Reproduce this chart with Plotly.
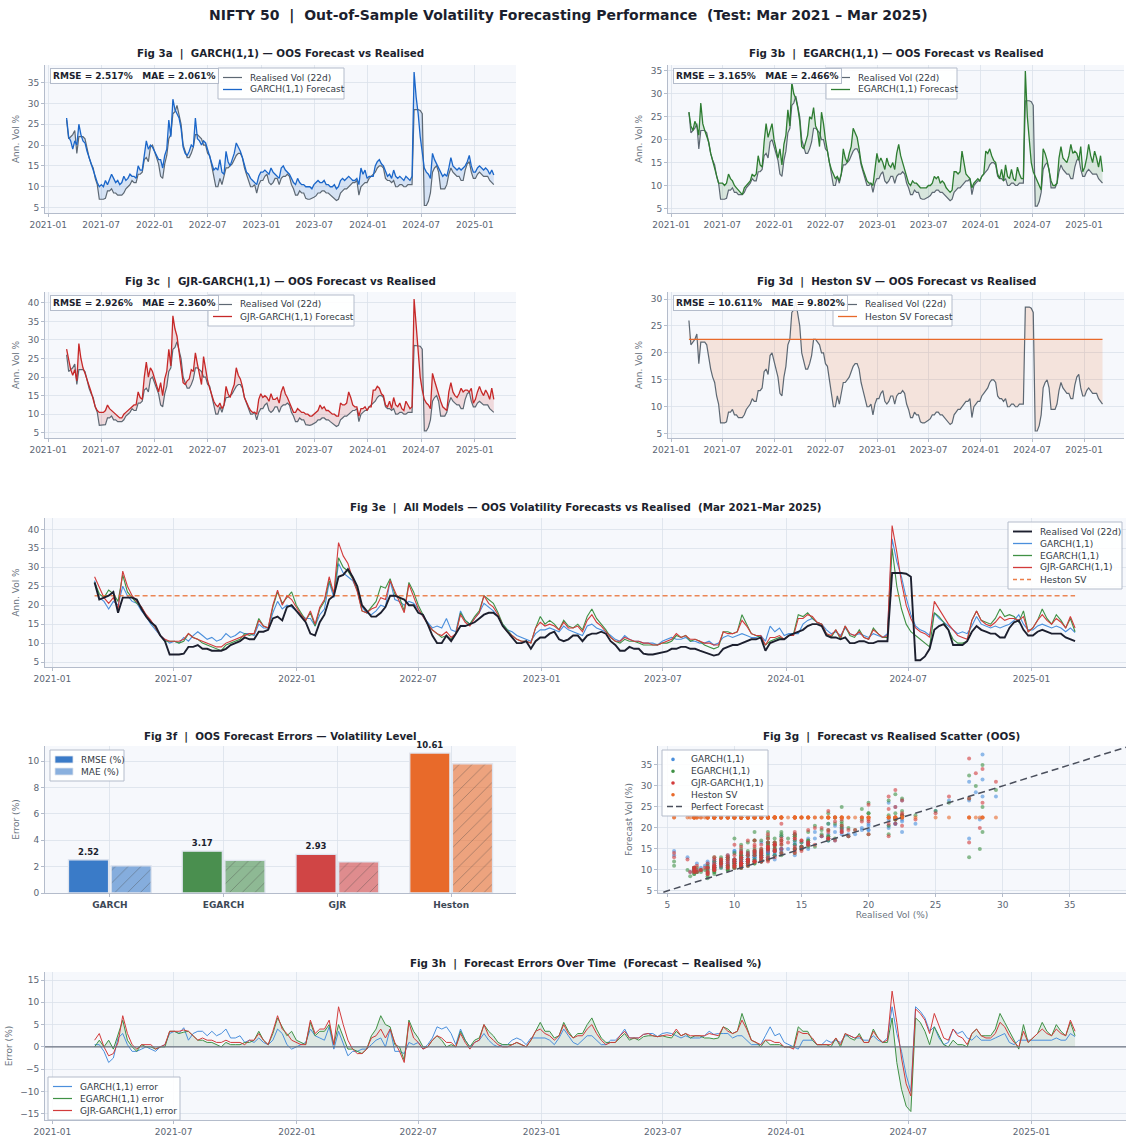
import pandas as pd
import plotly.graph_objects as go

# ---------------- DATA (weekly readings) ----------------
DATES = pd.date_range("2021-03-05", periods=210, freq="W-FRI")

REALISED = [
    # 2021
    26.0, 21.5, 22.0, 22.5,
    23.5, 18.0, 22.0, 22.0, 22.0,
    21.5, 19.0, 17.0, 15.5,
    14.5, 12.0, 10.5, 7.0,
    7.0, 7.0, 7.2, 9.0, 9.0,
    9.5, 8.5, 8.5, 8.0,
    8.0, 8.0, 8.5, 9.5,
    10.0, 10.5, 11.5, 11.0, 11.0,
    13.0, 13.0, 13.5, 16.5,
    17.0, 16.0, 19.5, 20.0, 18.5,
    # 2022
    17.0, 15.5, 12.5, 12.0,
    15.5, 17.5, 21.5, 22.5,
    27.5, 28.0, 29.5, 27.5,
    25.0, 20.0, 18.5, 17.0, 17.0,
    18.0, 19.5, 22.5, 22.5,
    22.0, 21.5, 20.0, 20.0,
    18.0, 17.5, 15.0, 12.0, 10.0,
    10.0, 12.0, 10.5, 12.5,
    14.5, 14.5, 15.0, 15.5, 16.5,
    17.5, 18.0, 18.0, 17.0,
    14.5, 13.0, 11.5, 10.0,
    10.0, 10.5, 8.5, 10.5, 11.5,
    # 2023
    11.5, 12.5, 13.0, 11.0,
    10.5, 11.0, 12.0, 12.0,
    10.5, 12.0, 12.5, 12.5, 13.0,
    12.5, 10.5, 9.5, 8.0,
    8.0, 9.0, 8.5, 8.5,
    7.2, 7.0, 7.0, 7.2, 7.5,
    7.8, 8.5, 8.5, 9.0,
    9.0, 8.5, 8.5, 8.0,
    7.5, 7.0, 6.7, 7.0, 8.5,
    9.0, 9.5, 9.5, 10.0,
    10.5, 11.0, 11.0, 11.5,
    8.0, 10.0, 10.5, 11.0, 11.0,
    # 2024
    12.0, 12.5, 13.0, 13.5,
    14.5, 15.0, 15.0, 14.5,
    12.0, 11.5, 11.5, 11.0, 11.5,
    10.0, 10.0, 10.5, 10.5,
    10.0, 10.0, 10.5, 10.5, 10.5,
    28.5, 28.5, 28.5, 28.3,
    27.5, 5.5, 5.5, 6.5,
    8.5, 13.5, 14.5, 15.0, 13.5,
    9.5, 9.5, 9.5, 10.5,
    13.0, 14.5, 13.5, 13.0,
    12.5, 12.5, 11.5, 11.5, 14.0,
    15.5, 16.0, 13.5, 12.0,
    # 2025
    12.0, 13.0, 13.5, 13.0, 12.5,
    12.5, 12.5, 11.5, 11.0,
    10.5,
]

GARCH = [
    26.5, 22.0, 21.0, 19.0,
    21.0, 20.0, 25.0, 22.5, 21.0,
    20.5, 18.5, 17.0, 15.0,
    13.5, 12.0, 11.0, 10.0,
    10.5, 10.0, 11.5, 10.5, 12.0,
    13.0, 12.0, 11.0, 11.5,
    10.5, 11.0, 12.5, 11.5,
    12.0, 13.0, 12.5, 12.5, 12.0,
    15.0, 14.0, 14.0, 18.0,
    21.0, 19.0, 20.0, 19.5, 18.5,
    # 2022
    17.5, 16.5, 16.5, 14.5,
    17.5, 19.0, 26.0, 22.0,
    31.0, 28.5, 27.5, 26.5,
    24.0, 19.5, 18.0, 17.5, 18.5,
    20.0, 19.5, 26.5, 21.5,
    21.0, 20.0, 21.0, 20.5,
    19.0, 17.0, 15.5, 14.0, 14.5,
    14.0, 16.5, 13.5, 13.0,
    18.5, 16.0, 15.0, 16.5, 18.0,
    20.5, 19.5, 18.5, 17.0,
    15.0, 13.5, 13.0, 12.0,
    11.5, 11.0, 10.5, 12.5, 13.5,
    # 2023
    13.5, 14.0, 13.5, 13.0,
    14.5, 13.5, 13.0, 12.5,
    12.0, 14.5, 15.0, 14.0, 13.5,
    13.0, 12.0, 11.0, 10.5,
    12.0, 11.0, 10.5, 10.5,
    10.0, 10.0, 10.0, 9.5, 10.5,
    11.0, 11.5, 11.0, 11.0,
    11.5, 10.5, 10.5, 10.0,
    10.0, 10.5, 9.5, 10.0, 11.5,
    12.0, 11.5, 12.0, 12.5,
    12.0, 11.5, 11.5, 12.0,
    10.5, 14.5, 13.0, 14.0, 12.0,
    # 2024
    12.5, 12.5, 12.5, 15.0,
    16.0, 16.5, 15.5, 15.0,
    13.5, 12.5, 13.0, 12.0, 14.0,
    12.5, 12.0, 12.5, 12.0,
    11.5, 12.5, 12.0, 11.5, 12.5,
    37.5, 31.5, 27.5, 22.0,
    17.5, 14.5, 13.5, 13.0,
    12.0, 18.0, 16.5, 15.5, 14.5,
    13.5, 12.5, 13.0, 12.5,
    14.5, 17.0, 15.0, 14.5,
    14.0, 14.5, 14.0, 14.5, 15.0,
    16.0, 17.5, 15.0, 13.5,
    # 2025
    13.5, 14.5, 15.0, 14.5, 14.0,
    14.5, 14.0, 13.0, 14.0,
    12.8,
]

EGARCH = [
    26.0, 23.0, 22.0, 24.0,
    23.0, 21.0, 28.0, 23.5, 22.0,
    20.5, 19.5, 17.0, 15.5,
    14.0, 12.0, 10.5, 10.5,
    10.5, 10.0, 10.5, 12.5, 11.5,
    11.0, 10.0, 9.5, 9.0,
    8.5, 8.0, 9.5, 10.0,
    10.5, 11.0, 12.5, 12.0, 12.5,
    16.5, 14.5, 14.0, 19.5,
    23.5, 20.5, 22.0, 23.5, 20.0,
    # 2022
    18.0, 16.0, 18.0, 14.5,
    19.0, 21.0, 26.5, 23.0,
    32.5, 30.0, 29.0, 27.0,
    24.0, 18.5, 18.0, 19.5, 21.0,
    25.0, 24.5, 27.0, 23.0,
    22.0, 18.5, 26.0, 23.5,
    20.0, 17.5, 15.0, 13.5, 12.5,
    11.5, 12.0, 11.0, 12.5,
    18.0, 16.0, 15.0, 17.0, 18.5,
    22.5, 21.5, 20.5, 18.0,
    15.0, 13.5, 12.0, 11.0,
    10.5, 10.5, 10.0, 14.0, 17.0,
    # 2023
    15.0, 16.0, 15.0, 13.5,
    16.0, 14.5, 14.0, 15.0,
    13.5, 17.0, 19.0, 16.5, 15.0,
    13.5, 11.5, 10.5, 10.0,
    11.0, 10.5, 10.5, 10.0,
    9.5, 9.5, 9.5, 9.5, 10.0,
    10.0, 10.5, 12.0, 11.5,
    12.0, 10.5, 11.0, 10.5,
    9.5, 9.0, 8.5, 9.0, 13.0,
    13.0, 12.5, 13.0, 17.5,
    15.0, 12.5, 12.0, 11.5,
    9.5, 10.5, 11.0, 11.5, 11.0,
    # 2024
    12.0, 12.5, 17.5, 17.0,
    18.0, 16.5, 15.5, 15.0,
    12.5, 11.5, 13.5, 11.0, 14.5,
    12.0, 11.5, 13.5, 11.5,
    11.0, 14.0, 12.5, 11.5, 11.5,
    35.0, 25.0, 19.0, 15.0,
    13.0, 12.0, 11.0, 10.0,
    9.0, 18.0, 17.0, 15.5, 13.5,
    11.0, 10.0, 10.0, 10.5,
    16.0, 18.5, 16.0, 15.5,
    15.0, 16.5, 19.0, 17.0, 17.5,
    17.0, 15.5, 18.5, 13.0,
    # 2025
    14.0, 16.0, 19.0, 16.5, 15.0,
    17.5, 16.0, 14.0, 16.5,
    13.0,
]

GJR = [
    27.5, 24.5, 22.0, 20.5,
    22.0, 19.0, 29.0, 25.0, 22.5,
    21.0, 19.5, 17.5, 16.0,
    14.0, 12.0, 11.0, 10.5,
    10.5, 10.5, 11.0, 12.5, 11.5,
    11.0, 10.5, 10.0, 9.5,
    9.0, 9.0, 10.0, 10.5,
    11.0, 11.5, 12.0, 12.5, 12.5,
    16.0, 14.5, 14.0, 20.0,
    24.0, 20.0, 22.5, 21.5, 19.5,
    # 2022
    17.5, 16.0, 18.5, 15.0,
    19.5, 21.5, 27.5, 23.0,
    36.5, 33.0, 31.0, 27.0,
    23.5, 18.5, 18.0, 19.0, 19.5,
    22.0, 21.5, 26.5, 23.5,
    21.0, 18.0, 25.5, 22.0,
    19.0, 17.0, 15.0, 13.5, 12.5,
    12.0, 13.0, 11.5, 12.5,
    17.5, 15.5, 14.5, 16.5, 18.0,
    22.5, 20.5, 19.5, 17.5,
    14.5, 13.0, 12.0, 11.0,
    10.5, 10.5, 10.0, 14.0, 15.5,
    # 2023
    14.5, 15.0, 14.5, 13.5,
    15.5, 14.0, 14.0, 14.5,
    13.0, 16.0, 17.5, 15.5, 14.5,
    13.0, 11.5, 10.5, 10.5,
    11.5, 11.0, 10.5, 10.5,
    10.0, 10.0, 9.5, 9.5, 10.0,
    10.5, 11.0, 12.5, 11.5,
    12.0, 11.0, 11.0, 10.5,
    10.0, 10.0, 9.5, 9.5, 13.0,
    12.5, 12.5, 13.0, 16.0,
    14.5, 12.5, 12.0, 12.0,
    9.5, 11.5, 11.5, 12.0, 11.0,
    # 2024
    12.0, 12.0, 16.5, 16.5,
    17.5, 17.0, 15.5, 15.0,
    12.5, 12.0, 13.5, 11.5, 14.5,
    12.5, 12.0, 13.0, 11.5,
    11.0, 13.5, 12.5, 11.5, 12.0,
    41.0, 34.0, 26.0, 20.0,
    16.5, 14.0, 13.0, 12.5,
    11.5, 21.0, 19.0, 17.0, 15.0,
    13.5, 12.0, 11.5, 11.0,
    16.0, 18.5, 16.0, 15.0,
    14.5, 15.5, 17.0, 16.0, 16.5,
    16.5, 16.0, 17.0, 13.0,
    # 2025
    14.0, 16.0, 17.5, 16.0, 15.0,
    16.5, 15.5, 14.0, 17.0,
    14.0,
]

HESTON_LEVEL = 22.5
HESTON = [HESTON_LEVEL] * len(DATES)

MODELS_SHORT = ["GARCH", "EGARCH", "GJR", "Heston"]
RMSE_VALS = [2.517, 3.165, 2.926, 10.611]
MAE_VALS = [2.061, 2.466, 2.360, 9.802]

TITLE = "NIFTY 50  |  Out-of-Sample Volatility Forecasting Performance  (Test: Mar 2021 – Mar 2025)"

# ---------------- STYLE ----------------
WF, HF = 1126, 1136
FONT = "DejaVu Sans"
NB = "\u00a0"
C_REAL = "#5d6873"
C_REAL_DARK = "#1c1f2e"
C_G = "#1a66c9"
C_E = "#2e7d32"
C_J = "#c62828"
C_H = "#e8692a"
C_G3 = "#4a8fdc"
C_E3 = "#3f9145"
C_J3 = "#d23b3b"
GRID = "#dbe1ea"
AXL = "#b4bccb"
TICKC = "#5b6573"
BG = "#f6f8fc"
TXT = "#1c1f2e"


def sp(s):
    return s.replace("  ", NB + NB)


def fx(px):
    return px / WF


def fy(px):
    return 1 - px / HF


COL_L = [fx(45), fx(516)]
COL_R = [fx(668), fx(1124)]
COL_G = [fx(658), fx(1126)]
COL_F = [fx(45), fx(1126)]
ROWS = [(65, 213), (292, 438), (518, 667), (746, 893), (972, 1120)]
RD = [[fy(b), fy(t)] for t, b in ROWS]

XR = ["2020-12-21", "2025-05-22"]

fig = go.Figure()
shapes = []
ann = []


def base_axis(**kw):
    d = dict(showgrid=True, gridcolor=GRID, gridwidth=0.8, showline=True,
             linecolor=AXL, linewidth=1, ticks="outside", ticklen=3,
             tickcolor=AXL, tickfont=dict(size=9, color=TICKC, family=FONT),
             zeroline=False, automargin=False, mirror=False)
    d.update(kw)
    return d


def date_axis(domain, anchor):
    return base_axis(domain=domain, anchor=anchor, type="date", range=XR,
                     tick0="2021-01-01", dtick="M6", tickformat="%Y-%m")


def y_axis(domain, anchor, rng, dtick, title="Ann. Vol %"):
    return base_axis(domain=domain, anchor=anchor, range=rng, dtick=dtick,
                     title=dict(text=title, font=dict(size=9, color="#6b7480", family=FONT),
                                standoff=6))


lay = {}
lay["xaxis"] = date_axis(COL_L, "y")
lay["yaxis"] = y_axis(RD[0], "x", [3.7, 39.2], 5)
lay["xaxis2"] = date_axis(COL_R, "y2")
lay["yaxis2"] = y_axis(RD[0], "x2", [4.0, 36.3], 5)
lay["xaxis3"] = date_axis(COL_L, "y3")
lay["yaxis3"] = y_axis(RD[1], "x3", [3.6, 42.9], 5)
lay["xaxis4"] = date_axis(COL_R, "y4")
lay["yaxis4"] = y_axis(RD[1], "x4", [4.2, 31.3], 5)
lay["xaxis5"] = date_axis(COL_F, "y5")
lay["yaxis5"] = y_axis(RD[2], "x5", [3.7, 43.0], 5)
lay["xaxis6"] = base_axis(domain=COL_L, anchor="y6", range=[-0.57, 3.57],
                          tickvals=[0, 1, 2, 3],
                          ticktext=["<b>%s</b>" % m for m in MODELS_SHORT],
                          tickfont=dict(size=9, color="#3d4856", family=FONT))
lay["yaxis6"] = y_axis(RD[3], "x6", [0, 11.15], 2, title="Error (%)")
lay["xaxis7"] = base_axis(domain=COL_G, anchor="y7", range=[4.3, 39.2], dtick=5,
                          title=dict(text="Realised Vol (%)", font=dict(size=9, color="#6b7480", family=FONT),
                                     standoff=2))
lay["yaxis7"] = y_axis(RD[3], "x7", [4.5, 39.5], 5, title="Forecast Vol (%)")
lay["xaxis8"] = date_axis(COL_F, "y8")
lay["yaxis8"] = y_axis(RD[4], "x8", [-16.4, 16.8], 5, title="Error (%)")


def rgba(hexc, a):
    h = hexc.lstrip("#")
    r, g, b = int(h[0:2], 16), int(h[2:4], 16), int(h[4:6], 16)
    return "rgba(%d,%d,%d,%.3f)" % (r, g, b, a)


def line_tr(x, y, xa, ya, color, width, dash=None, name=None):
    return go.Scatter(x=x, y=y, mode="lines", name=name, showlegend=False,
                      line=dict(color=color, width=width, dash=dash),
                      xaxis=xa, yaxis=ya, hoverinfo="skip")


def panel(xa, ya, fc, color):
    fig.add_trace(line_tr(DATES, REALISED, xa, ya, C_REAL, 1.2))
    fig.add_trace(go.Scatter(x=DATES, y=fc, mode="lines", line=dict(width=0, color=color),
                             fill="tonexty", fillcolor=rgba(color, 0.15), showlegend=False,
                             xaxis=xa, yaxis=ya, hoverinfo="skip"))
    fig.add_trace(line_tr(DATES, fc, xa, ya, color, 1.3))


panel("x", "y", GARCH, C_G)
panel("x2", "y2", EGARCH, C_E)
panel("x3", "y3", GJR, C_J)
panel("x4", "y4", HESTON, C_H)

# 3e all models
fig.add_trace(line_tr(DATES, GARCH, "x5", "y5", C_G3, 1.1))
fig.add_trace(line_tr(DATES, EGARCH, "x5", "y5", C_E3, 1.1))
fig.add_trace(line_tr(DATES, GJR, "x5", "y5", C_J3, 1.1))
fig.add_trace(line_tr(DATES, HESTON, "x5", "y5", rgba(C_H, 0.8), 1.4, dash="5px,3px"))
fig.add_trace(line_tr(DATES, REALISED, "x5", "y5", C_REAL_DARK, 1.9))

# 3f bars
BAR_C = ["#3a7bc8", "#4a8f4f", "#d04545", "#e86a2a"]
BAR_DARK = ["#2a5f9e", "#356b39", "#a83434", "#b9521f"]
fig.add_trace(go.Bar(x=[0, 1, 2, 3], y=[round(v, 2) for v in RMSE_VALS], name="RMSE (%)",
                     marker=dict(color=BAR_C, line=dict(color="#dfe4ee", width=1.3)),
                     texttemplate="<b>%{y:.2f}</b>", textposition="outside",
                     textfont=dict(size=8.5, color=TXT, family=FONT), cliponaxis=False,
                     xaxis="x6", yaxis="y6", showlegend=False, offsetgroup="a"))
fig.add_trace(go.Bar(x=[0, 1, 2, 3], y=[round(v, 2) for v in MAE_VALS], name="MAE (%)",
                     marker=dict(color=[rgba(c, 0.6) for c in BAR_C],
                                 line=dict(color="#dfe4ee", width=1.3),
                                 pattern=dict(shape="/", fgcolor=[rgba(c, 0.25) for c in BAR_DARK],
                                              size=9, solidity=0.08)),
                     xaxis="x6", yaxis="y6", showlegend=False, offsetgroup="b"))

# 3g scatter
for fc, col in [(GARCH, C_G3), (EGARCH, C_E3), (GJR, C_J3), (HESTON, C_H)]:
    fig.add_trace(go.Scatter(x=REALISED, y=fc, mode="markers", showlegend=False,
                             marker=dict(color=col, size=4, opacity=0.6, line=dict(width=0)),
                             xaxis="x7", yaxis="y7", hoverinfo="skip"))
fig.add_trace(line_tr([0, 45], [0, 45], "x7", "y7", "#4a4f5c", 1.5, dash="7px,4px"))

# 3h errors
ERR_G = [f - r for f, r in zip(GARCH, REALISED)]
ERR_E = [f - r for f, r in zip(EGARCH, REALISED)]
ERR_J = [f - r for f, r in zip(GJR, REALISED)]
fig.add_trace(go.Scatter(x=DATES, y=[0] * len(DATES), mode="lines", line=dict(width=0),
                         showlegend=False, xaxis="x8", yaxis="y8", hoverinfo="skip"))
fig.add_trace(go.Scatter(x=DATES, y=ERR_E, mode="lines", line=dict(width=0),
                         fill="tonexty", fillcolor=rgba(C_E, 0.12), showlegend=False,
                         xaxis="x8", yaxis="y8", hoverinfo="skip"))
fig.add_trace(line_tr(DATES, ERR_G, "x8", "y8", C_G3, 1.0))
fig.add_trace(line_tr(DATES, ERR_E, "x8", "y8", C_E3, 1.0))
fig.add_trace(line_tr(DATES, ERR_J, "x8", "y8", C_J3, 1.0))

shapes.append(dict(type="line", xref="x8 domain", yref="y8", x0=0, x1=1, y0=0, y1=0,
                   line=dict(color="#6b7280", width=1.2)))


# ---------------- manual legends ----------------
def legend_box(x0, y0, x1, items, row=12.0, pad=3.5, sample=19):
    y1 = y0 + 2 * pad + row * len(items)
    shapes.append(dict(type="rect", xref="paper", yref="paper", x0=fx(x0), x1=fx(x1),
                       y0=fy(y0), y1=fy(y1), fillcolor="rgba(255,255,255,0.88)",
                       line=dict(color=AXL, width=1), layer="above"))
    for i, (label, kind, color, width, dash) in enumerate(items):
        yc = y0 + pad + row * (i + 0.5)
        sx0, sx1 = x0 + 5, x0 + 5 + sample
        if kind == "line":
            shapes.append(dict(type="line", xref="paper", yref="paper", x0=fx(sx0), x1=fx(sx1),
                               y0=fy(yc), y1=fy(yc), layer="above",
                               line=dict(color=color, width=width, dash=dash)))
        elif kind == "rect":
            shapes.append(dict(type="rect", xref="paper", yref="paper", x0=fx(sx0), x1=fx(sx1),
                               y0=fy(yc + 3.5), y1=fy(yc - 3.5), layer="above",
                               fillcolor=color, line=dict(color="#dfe4ee", width=0.8)))
        elif kind == "dot":
            cx = sx0 + 6
            shapes.append(dict(type="circle", xref="paper", yref="paper", x0=fx(cx - 1.8),
                               x1=fx(cx + 1.8), y0=fy(yc + 1.8), y1=fy(yc - 1.8), layer="above",
                               fillcolor=color, line=dict(width=0)))
        ann.append(dict(text=label, x=fx(sx1 + 6), y=fy(yc), xref="paper", yref="paper",
                        showarrow=False, xanchor="left", yanchor="middle",
                        font=dict(size=9, color="#333a44", family=FONT)))


legend_box(218, 68, 344, [("Realised Vol (22d)", "line", C_REAL, 1.2, None),
                          ("GARCH(1,1) Forecast", "line", C_G, 1.3, None)])
legend_box(826, 68, 957, [("Realised Vol (22d)", "line", C_REAL, 1.2, None),
                          ("EGARCH(1,1) Forecast", "line", C_E, 1.3, None)])
legend_box(208, 295, 354, [("Realised Vol (22d)", "line", C_REAL, 1.2, None),
                           ("GJR-GARCH(1,1) Forecast", "line", C_J, 1.3, None)])
legend_box(833, 295, 952, [("Realised Vol (22d)", "line", C_REAL, 1.2, None),
                           ("Heston SV Forecast", "line", C_H, 1.3, None)])
legend_box(1008, 522, 1122, [("Realised Vol (22d)", "line", C_REAL_DARK, 1.9, None),
                             ("GARCH(1,1)", "line", C_G3, 1.3, None),
                             ("EGARCH(1,1)", "line", C_E3, 1.3, None),
                             ("GJR-GARCH(1,1)", "line", C_J3, 1.3, None),
                             ("Heston SV", "line", rgba(C_H, 0.85), 1.4, "4px,3px")])
legend_box(50, 750, 124, [("RMSE (%)", "rect", BAR_C[0], 0, None),
                          ("MAE (%)", "rect", rgba(BAR_C[0], 0.6), 0, None)], sample=18)
legend_box(662, 750, 768, [("GARCH(1,1)", "dot", C_G3, 0, None),
                           ("EGARCH(1,1)", "dot", C_E3, 0, None),
                           ("GJR-GARCH(1,1)", "dot", C_J3, 0, None),
                           ("Heston SV", "dot", C_H, 0, None),
                           ("Perfect Forecast", "line", "#4a4f5c", 1.5, "6px,3px")],
           row=11.8, sample=16)
legend_box(48, 1077, 180, [("GARCH(1,1) error", "line", C_G3, 1.2, None),
                           ("EGARCH(1,1) error", "line", C_E3, 1.2, None),
                           ("GJR-GARCH(1,1) error", "line", C_J3, 1.2, None)])

# ---------------- titles ----------------
ann.append(dict(text="<b>%s</b>" % sp(TITLE), x=fx(568), y=fy(16), xref="paper", yref="paper",
                showarrow=False, font=dict(size=14, color=TXT, family=FONT),
                xanchor="center", yanchor="middle"))
SUB = [
    ("Fig 3a  |  GARCH(1,1) — OOS Forecast vs Realised", COL_L, 54),
    ("Fig 3b  |  EGARCH(1,1) — OOS Forecast vs Realised", COL_R, 54),
    ("Fig 3c  |  GJR-GARCH(1,1) — OOS Forecast vs Realised", COL_L, 281),
    ("Fig 3d  |  Heston SV — OOS Forecast vs Realised", COL_R, 281),
    ("Fig 3e  |  All Models — OOS Volatility Forecasts vs Realised  (Mar 2021–Mar 2025)", COL_F, 508),
    ("Fig 3f  |  OOS Forecast Errors — Volatility Level", COL_L, 736),
    ("Fig 3g  |  Forecast vs Realised Scatter (OOS)", COL_G, 736),
    ("Fig 3h  |  Forecast Errors Over Time  (Forecast − Realised %)", COL_F, 963),
]
for t, col, ypx in SUB:
    ann.append(dict(text="<b>%s</b>" % sp(t), x=(col[0] + col[1]) / 2, y=fy(ypx),
                    xref="paper", yref="paper", showarrow=False,
                    font=dict(size=10.3, color=TXT, family=FONT),
                    xanchor="center", yanchor="middle"))

# metric boxes
BOX = [(0, COL_L, 68), (1, COL_R, 68), (2, COL_L, 295), (3, COL_R, 295)]
for i, col, ypx in BOX:
    txt = "<b>RMSE = %.3f%%%sMAE = %.3f%%</b>" % (RMSE_VALS[i], NB * 3, MAE_VALS[i])
    ann.append(dict(text=txt, x=col[0] + 5 / WF, y=fy(ypx), xref="paper", yref="paper",
                    showarrow=False, xanchor="left", yanchor="top",
                    font=dict(size=9, color=TXT, family=FONT),
                    bgcolor="rgba(255,255,255,0.9)", bordercolor=AXL, borderwidth=1, borderpad=2))

lay.update(dict(
    width=WF, height=HF, margin=dict(l=0, r=0, t=0, b=0),
    paper_bgcolor="white", plot_bgcolor=BG, showlegend=False,
    font=dict(family=FONT, size=9, color="#333a44"),
    annotations=ann, shapes=shapes, barmode="group", bargap=0.25, bargroupgap=0.06,
    hovermode=False,
))
fig.update_layout(**lay)
fig.write_html("out.html", config={"displayModeBar": False, "staticPlot": True},
               post_script="document.body.style.margin='0';document.body.style.overflow='hidden';")
